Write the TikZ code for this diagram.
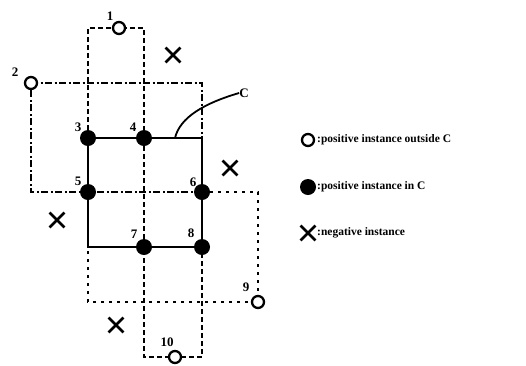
\documentclass[tikz,border=0pt]{standalone}
\usepackage{fontspec}
\setmainfont{Liberation Serif}
\usetikzlibrary{shapes.misc}

\begin{document}
\begin{tikzpicture}[x=1pt, y=-1pt, every node/.style={font=\bfseries},
  posout/.style={circle, draw, fill=white, line width=2.3pt, inner sep=0pt, minimum size=12pt},
  posin/.style={circle, fill, inner sep=0pt, minimum size=16pt},
  neg/.style={cross out, draw, line width=2.8pt, inner sep=0pt, minimum size=12pt},
  num/.style={inner sep=0pt, font=\bfseries\fontsize{13}{13}\selectfont},
  txt/.style={anchor=west, inner sep=0pt, font=\bfseries\fontsize{11.5}{11.5}\selectfont},
  hyp/.style={line width=1.8pt},
  dashbox/.style={line width=1.8pt, dash pattern=on 5pt off 3pt},
  dotbox/.style={line width=1.8pt, dash pattern=on 3pt off 5pt},
  dashdotbox/.style={line width=1.8pt, dash pattern=on 7pt off 2.5pt on 2pt off 2.5pt}]
	\useasboundingbox (0,0) rectangle (526,365);

	% grid corners
	\coordinate (a1) at (88,28);
	\coordinate (a2) at (144,28);
	\coordinate (b1) at (202,83);
	\coordinate (b2) at (202,192);
	\coordinate (b3) at (31,192);
	\coordinate (c1) at (202,138);
	\coordinate (c2) at (88,247);
	\coordinate (d1) at (258,192);
	\coordinate (d2) at (258,302);
	\coordinate (d3) at (88,302);
	\coordinate (e1) at (144,357);
	\coordinate (e2) at (202,357);
	\coordinate (e3) at (144,138);
	\coordinate (cs) at (175,138);

	% boxes
	\draw[dashbox] (88,138) -- (a1) -- (a2) -- (e3);
	\draw[dashbox] (e3) -- (e1) -- (e2) -- (202,247);
	\draw[dashdotbox] (31,83) -- (b1) -- (b2) -- (b3) -- cycle;
	\draw[dotbox] (b2) -- (d1) -- (d2) -- (d3) -- (c2);
	\draw[hyp] (88,138) -- (c1) -- (202,247) -- (c2) -- cycle;

	% instances
	\node[posout] (p1) at (119,28) {};
	\node[posout] (p2) at (31,83) {};
	\node[posin] (p3) at (88,138) {};
	\node[posin] (p4) at (144,138) {};
	\node[posin] (p5) at (88,192) {};
	\node[posin] (p6) at (202,192) {};
	\node[posin] (p7) at (144,247) {};
	\node[posin] (p8) at (202,247) {};
	\node[posout] (p9) at (258,302) {};
	\node[posout] (p10) at (175,357) {};
	\node[neg] (n1) at (173,55) {};
	\node[neg] (n2) at (230,168) {};
	\node[neg] (n3) at (57,220) {};
	\node[neg] (n4) at (116,325) {};

	\node[num] (l1) at (110,16) {1};
	\node[num] (l2) at (15,72) {2};
	\node[num] (l3) at (78,127) {3};
	\node[num] (l4) at (133,127) {4};
	\node[num] (l5) at (78,181) {5};
	\node[num] (l6) at (193,182) {6};
	\node[num] (l7) at (134,234) {7};
	\node[num] (l8) at (191,233) {8};
	\node[num] (l9) at (246,287) {9};
	\node[num] (l10) at (167,342) {10};

	% hypothesis C
	\node[num] (lc) at (244,93) {C};
	\draw[hyp] (cs) .. controls (180,117) and (205,103) .. (lc.west);

	% legend
	\node[posout] (k1) at (308,140) {};
	\node[txt] (t1) at (317,140) {:positive instance outside C};
	\node[posin] (k2) at (308,187) {};
	\node[txt] (t2) at (317,187) {:positive instance in C};
	\node[neg] (k3) at (308,233) {};
	\node[txt] (t3) at (317,233) {:negative instance};
\end{tikzpicture}
\end{document}
